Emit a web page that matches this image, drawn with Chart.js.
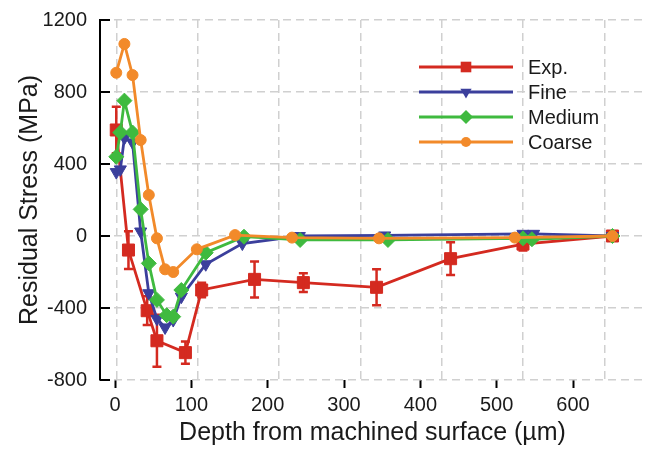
<!DOCTYPE html>
<html><head><meta charset="utf-8">
<script src="https://cdn.jsdelivr.net/npm/chart.js@4.4.1/dist/chart.umd.min.js"></script>
<style>html,body{margin:0;padding:0;background:#fff;}#wrap{width:647px;height:450px;}</style>
</head><body><div id="wrap"><canvas id="c" width="647" height="450"></canvas></div>
<script>
// ---- data (depth in µm, stress in MPa) ----
const seriesNames = ['Exp.', 'Fine', 'Medium', 'Coarse'];
const expDepth  = [0, 15, 38, 50, 85, 105, 170, 230, 320, 411, 500, 610];
const expStress = [589, -78, -415, -582, -648, -300, -241, -259, -285, -126, -45, 0];
const expErr    = [129, 105, 80, 145, 62, 40, 100, 52, 100, 91, 35, 0];
const fineDepth  = [0, 5, 10, 20, 30, 40, 50, 60, 70, 80, 110, 155, 225, 330, 500, 513, 610];
const fineStress = [355, 370, 545, 520, 25, -318, -460, -508, -467, -337, -157, -42, 0, 3, 12, 12, 0];
const medDepth  = [0, 5, 10, 20, 30, 40, 50, 62, 70, 80, 110, 157, 226, 334, 500, 511, 610];
const medStress = [440, 575, 752, 575, 148, -152, -355, -440, -448, -300, -93, -4, -22, -22, -13, -18, 0];
const coarseDepth  = [0, 10, 20, 30, 40, 50, 60, 70, 99, 146, 216, 323, 490, 610];
const coarseStress = [907, 1067, 894, 533, 228, -13, -185, -200, -74, 5, -9, -13, -9, 0];
const xTickValues = [0, 100, 200, 300, 400, 500, 600];
const yTickValues = [-800, -400, 0, 400, 800, 1200];

const colors = ['#d42a20', '#3b3f9c', '#3fba3f', '#f28a2a'];
const styles = ['rect', 'triangle', 'rectRot', 'circle'];
const radii = [8.5, 7, 7.5, 5.5];
const rotations = [0, 180, 0, 0];
const FONT = "'Liberation Sans', Arial, Helvetica, sans-serif";
const TXT = '#1a1a1a';

function pts(xs, ys) { return xs.map((v, i) => ({ x: v, y: ys[i] })); }
const allData = [pts(expDepth, expStress), pts(fineDepth, fineStress), pts(medDepth, medStress), pts(coarseDepth, coarseStress)];

const datasets = allData.map((d, i) => ({
  label: seriesNames[i], data: d,
  borderColor: colors[i], backgroundColor: colors[i],
  pointBackgroundColor: colors[i], pointBorderColor: colors[i],
  borderWidth: 2.8, pointStyle: styles[i], pointRadius: radii[i], pointRotation: rotations[i],
  pointBorderWidth: 1, tension: 0, order: 3 - i, xAxisID: 'x', yAxisID: 'y'
}));

const errorBars = {
  id: 'errorBars',
  afterDatasetDraw(chart, args) {
    if (args.index !== 0) return;
    const { ctx, scales: { x, y } } = chart;
    ctx.save(); ctx.strokeStyle = colors[0]; ctx.lineWidth = 2.5;
    expDepth.forEach((d, i) => {
      const e = expErr[i]; if (!e) return;
      const px = x.getPixelForValue(d);
      const t = y.getPixelForValue(expStress[i] + e), b = y.getPixelForValue(expStress[i] - e);
      ctx.beginPath();
      ctx.moveTo(px, t); ctx.lineTo(px, b);
      ctx.moveTo(px - 4.5, t); ctx.lineTo(px + 4.5, t);
      ctx.moveTo(px - 4.5, b); ctx.lineTo(px + 4.5, b);
      ctx.stroke();
    });
    ctx.restore();
  }
};

function marker(ctx, style, x, y, r, rot) {
  ctx.beginPath();
  if (style === 'rect') { const s = r * Math.SQRT1_2; ctx.rect(x - s, y - s, 2 * s, 2 * s); }
  else if (style === 'circle') { ctx.arc(x, y, r, 0, Math.PI * 2); }
  else if (style === 'rectRot') { ctx.moveTo(x, y - r); ctx.lineTo(x + r, y); ctx.lineTo(x, y + r); ctx.lineTo(x - r, y); ctx.closePath(); }
  else if (style === 'triangle') {
    const dir = rot === 180 ? 1 : -1;
    ctx.moveTo(x, y + dir * r); ctx.lineTo(x - r * 0.866, y - dir * r * 0.5); ctx.lineTo(x + r * 0.866, y - dir * r * 0.5); ctx.closePath();
  }
  ctx.fill();
}

const extras = {
  id: 'extras',
  afterDraw(chart) {
    const { ctx, chartArea, scales: { y } } = chart;
    ctx.save();
    // inward y ticks
    ctx.strokeStyle = '#000'; ctx.lineWidth = 2;
    yTickValues.forEach(v => {
      const py = y.getPixelForValue(v);
      ctx.beginPath(); ctx.moveTo(chartArea.left, py); ctx.lineTo(chartArea.left + 10, py); ctx.stroke();
    });
    // legend
    const lx0 = 419, lx1 = 513, mx = 466, tx = 528, ly0 = 67, dy = 25;
    const lr = [7.5, 6.5, 7, 5];
    ctx.font = '20px ' + FONT; ctx.textBaseline = 'middle'; ctx.textAlign = 'left';
    seriesNames.forEach((n, i) => {
      const yy = ly0 + i * dy;
      ctx.strokeStyle = colors[i]; ctx.fillStyle = colors[i]; ctx.lineWidth = 2.8;
      ctx.beginPath(); ctx.moveTo(lx0, yy); ctx.lineTo(lx1, yy); ctx.stroke();
      marker(ctx, styles[i], mx, yy, lr[i], rotations[i]);
      ctx.fillStyle = TXT; ctx.fillText(n, tx, yy + 1);
    });
    ctx.restore();
  }
};

const gridCfg = { color: '#d0d0d0', lineWidth: 1.5 };
const noPad = s => { s.paddingLeft = 0; s.paddingRight = 0; s.paddingTop = 0; s.paddingBottom = 0; };

new Chart(document.getElementById('c'), {
  type: 'line',
  data: { datasets },
  options: {
    responsive: false, animation: false, devicePixelRatio: 1,
    layout: { autoPadding: false, padding: { top: 20, right: 2, left: 0, bottom: 0 } },
    plugins: { legend: { display: false }, tooltip: { enabled: false } },
    scales: {
      x: {
        type: 'linear', position: 'bottom', min: -20, max: 650,
        afterBuildTicks: s => { s.ticks = xTickValues.map(v => ({ value: v })); },
        afterFit: s => { s.height = 0; noPad(s); },
        ticks: { display: false },
        grid: { ...gridCfg, drawTicks: false },
        border: { display: false, dash: [8, 5] }
      },
      x2: {
        type: 'linear', position: 'bottom', min: -19.65, max: 694.3,
        afterBuildTicks: s => { s.ticks = xTickValues.map(v => ({ value: v })); },
        afterFit: s => { s.height = 70; noPad(s); },
        ticks: { color: TXT, font: { family: FONT, size: 20 }, padding: 5, maxRotation: 0, callback: v => String(v) },
        grid: { drawOnChartArea: false, drawTicks: true, tickLength: 8, tickColor: '#000', tickWidth: 2 },
        border: { display: false },
        title: { display: true, text: 'Depth from machined surface (µm)', color: TXT, font: { family: FONT, size: 25 }, padding: { top: 0, bottom: 2 } }
      },
      y: {
        type: 'linear', position: 'left', min: -800, max: 1200,
        afterBuildTicks: s => { s.ticks = yTickValues.map(v => ({ value: v })); },
        afterFit: s => { s.width = 100; noPad(s); },
        ticks: { color: TXT, font: { family: FONT, size: 20 }, padding: 13, callback: v => String(v) },
        grid: { ...gridCfg, drawTicks: false },
        border: { display: true, color: '#000', width: 2, dash: [8, 5] },
        title: { display: true, text: 'Residual Stress (MPa)', color: TXT, font: { family: FONT, size: 25 }, padding: { top: 15, bottom: 0 } }
      }
    }
  },
  plugins: [errorBars, extras]
});
</script>
</body></html>
